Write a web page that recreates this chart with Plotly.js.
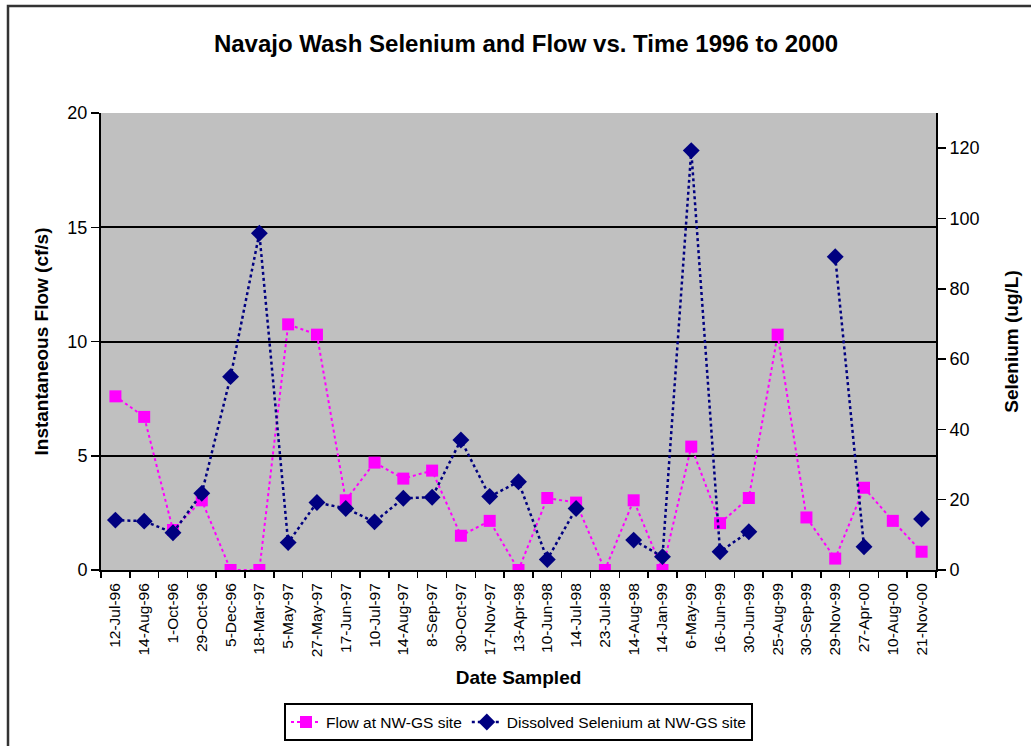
<!DOCTYPE html>
<html>
<head>
<meta charset="utf-8">
<script src="https://cdn.plot.ly/plotly-3.0.1.min.js"></script>
<style>
  html, body { margin: 0; padding: 0; background: #fff; }
  #chart { width: 1031px; height: 746px; }
</style>
</head>
<body>
<div id="chart"></div>
<script>
const dates = ["12-Jul-96","14-Aug-96","1-Oct-96","29-Oct-96","5-Dec-96","18-Mar-97","5-May-97","27-May-97",
  "17-Jun-97","10-Jul-97","14-Aug-97","8-Sep-97","30-Oct-97","17-Nov-97","13-Apr-98","10-Jun-98",
  "14-Jul-98","23-Jul-98","14-Aug-98","14-Jan-99","6-May-99","16-Jun-99","30-Jun-99","25-Aug-99",
  "30-Sep-99","29-Nov-99","27-Apr-00","10-Aug-00","21-Nov-00"];
const flow = [7.6, 6.7, 1.75, 3.05, 0, 0, 10.75, 10.3, 3.05, 4.7, 4.0, 4.35, 1.5, 2.15, 0, 3.15,
  2.95, 0, 3.05, 0, 5.4, 2.05, 3.15, 10.3, 2.3, 0.5, 3.6, 2.15, 0.8];
const selenium = [14.2, 13.9, 10.6, 21.8, 55, 95.8, 7.8, 19.2, 17.5, 13.7, 20.4, 20.7, 37, 20.9, 25.1, 3.0,
  17.5, null, 8.5, 3.8, 119.3, 5.2, 10.9, null, null, 89.1, 6.6, null, 14.5];
const flowTicks = [0, 5, 10, 15, 20];
const seTicks = [0, 20, 40, 60, 80, 100, 120];

const font = "Liberation Sans, Arial, sans-serif";

const traces = [
  {
    x: dates, y: flow, type: "scatter", mode: "lines+markers",
    name: "Flow at NW-GS site",
    line: {color: "#FF00FF", width: 2, dash: "dot"},
    marker: {symbol: "square", size: 12, color: "#FF00FF"},
    connectgaps: false, yaxis: "y"
  },
  {
    x: dates, y: selenium, type: "scatter", mode: "lines+markers",
    name: "Dissolved Selenium at NW-GS site",
    line: {color: "#000080", width: 2.5, dash: "dot"},
    marker: {symbol: "diamond", size: 13, color: "#000080"},
    connectgaps: false, yaxis: "y2"
  }
];

const layout = {
  width: 1031, height: 746,
  margin: {l: 101, r: 95, t: 113, b: 176, autoexpand: false},
  paper_bgcolor: "#ffffff",
  plot_bgcolor: "#c0c0c0",
  font: {family: font, color: "#000"},
  title: {
    text: "<b>Navajo Wash Selenium and Flow vs. Time 1996 to 2000</b>",
    font: {family: font, size: 24, color: "#000"},
    xref: "paper", x: 0.509, xanchor: "center", y: 1 - 44/746, yanchor: "middle"
  },
  xaxis: {
    type: "category", categoryorder: "array", categoryarray: dates,
    range: [-0.5, dates.length - 0.5], autorange: false,
    tickangle: -90, tickfont: {family: font, size: 15.5, color: "#000"},
    ticks: "outside", ticklen: 6, tickwidth: 1.5, tickcolor: "#000", tickson: "boundaries",
    ticklabelstandoff: 5,
    showline: true, linecolor: "#000", linewidth: 2,
    showgrid: false, zeroline: false, automargin: false,
    title: {text: "<b>Date Sampled</b>", font: {family: font, size: 19, color: "#000"}, standoff: 14}
  },
  yaxis: {
    range: [0, 20], autorange: false, tickvals: flowTicks, ticktext: flowTicks.map(String),
    tickfont: {family: font, size: 18, color: "#000"},
    ticks: "outside", ticklen: 8, tickwidth: 1.5, tickcolor: "#000",
    showline: true, linecolor: "#000", linewidth: 2,
    showgrid: true, gridcolor: "#000", gridwidth: 2, zeroline: false, automargin: false,
    title: {text: "<b>Instantaneous Flow (cf/s)</b>", font: {family: font, size: 19, color: "#000"}, standoff: 14}
  },
  yaxis2: {
    range: [0, 130], autorange: false, tickvals: seTicks, ticktext: seTicks.map(String),
    overlaying: "y", side: "right",
    tickfont: {family: font, size: 18, color: "#000"},
    ticks: "outside", ticklen: 8, tickwidth: 1.5, tickcolor: "#000",
    showline: true, linecolor: "#000", linewidth: 2,
    showgrid: false, zeroline: false, automargin: false,
    title: {text: "<b>Selenium (ug/L)</b>", font: {family: font, size: 19, color: "#000"}, standoff: 26}
  },
  showlegend: true,
  legend: {
    orientation: "h", x: 0.5, xanchor: "center", y: -0.292, yanchor: "top",
    bordercolor: "#000", borderwidth: 2, bgcolor: "#fff",
    font: {family: font, size: 15.5, color: "#000"},
    itemwidth: 30, tracegroupgap: 0
  },
  shapes: [
    {type: "rect", xref: "paper", yref: "paper",
     x0: (8 - 101) / 835, x1: 1.3, y0: -0.6, y1: (570 - 6) / 457,
     line: {color: "#333", width: 2.5}, fillcolor: "rgba(0,0,0,0)", layer: "above"}
  ]
};

Plotly.newPlot("chart", traces, layout, {staticPlot: true, displayModeBar: false});
</script>
</body>
</html>
